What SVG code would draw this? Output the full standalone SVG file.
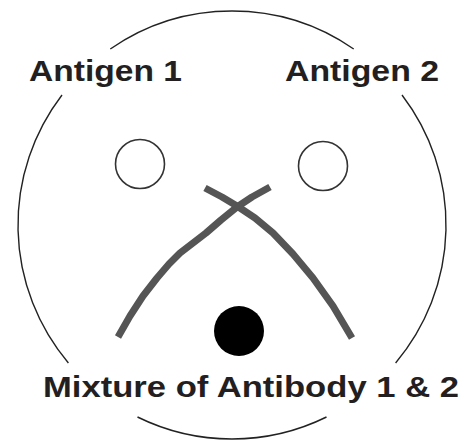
<svg xmlns="http://www.w3.org/2000/svg" width="463" height="440" viewBox="0 0 463 440">
<style>
.rim{fill:none;stroke:#222;stroke-width:1.4}
.well{fill:#fff;stroke:#333;stroke-width:1.6}
.arc{fill:none;stroke:#555;stroke-width:7;stroke-linejoin:round}
.lbl{font-family:"Liberation Sans",Arial,sans-serif;font-weight:bold;font-size:30px;fill:#231f20}
</style>
<rect width="463" height="440" fill="#fff"/>
<g id="plate">
<path class="rim" d="M110.3,49 A214,214 0 0 1 353.7,49"/>
<path class="rim" d="M402,95 A214,214 0 0 1 395.6,363"/>
<path class="rim" d="M326.5,417 A214,214 0 0 1 137.5,417"/>
<path class="rim" d="M68.4,363 A214,214 0 0 1 62,95"/>
</g>
<g id="connectors">
<path class="arc" d="M118,337 L130,316 L143,296 L157,278 L169,264 L180,253 L193,243 L206,233 L221,220 L237,207 L252,197 L270,187"/>
<path class="arc" d="M205,188 L222,197 L237,206 L255,218 L273,233 L293,254 L313,278 L333,306 L352,338"/>
</g>
<g id="antigen1">
<circle class="well" cx="140" cy="164" r="24.5"/>
<text class="lbl" x="29" y="81" textLength="153" lengthAdjust="spacingAndGlyphs">Antigen 1</text>
</g>
<g id="antigen2">
<circle class="well" cx="323" cy="166" r="24.5"/>
<text class="lbl" x="285" y="81" textLength="154" lengthAdjust="spacingAndGlyphs">Antigen 2</text>
</g>
<g id="antibody">
<circle cx="239" cy="331" r="25" fill="#000"/>
<text class="lbl" x="43" y="397" textLength="416" lengthAdjust="spacingAndGlyphs">Mixture of Antibody 1 &amp; 2</text>
</g>
</svg>
